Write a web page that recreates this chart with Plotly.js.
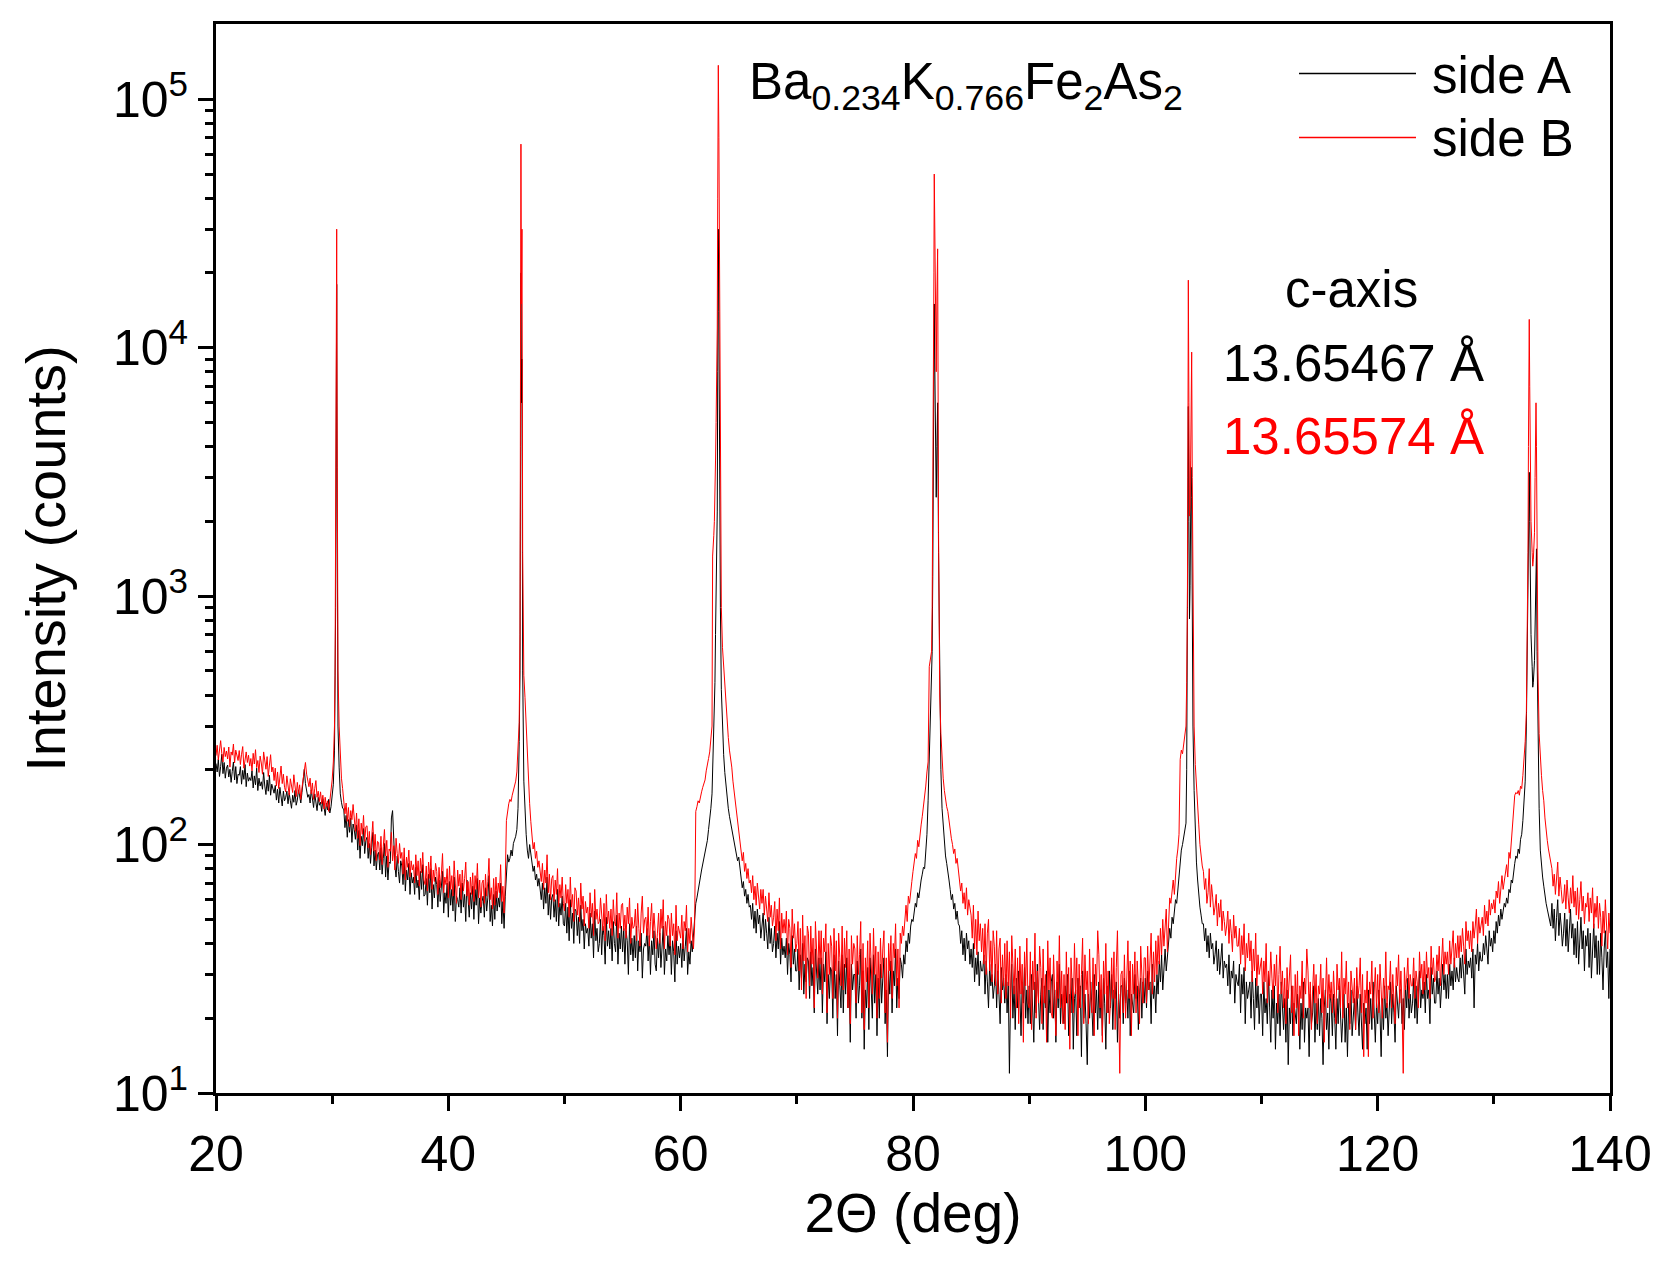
<!DOCTYPE html>
<html>
<head>
<meta charset="utf-8">
<script src="https://cdn.plot.ly/plotly-3.0.1.min.js"></script>
<style>html,body{margin:0;padding:0;background:#fff;} #chart{width:1661px;height:1271px;}</style>
</head>
<body>
<div id="chart"></div>
<script>
// 2Theta sampling positions (deg), shared by both scans
const twoTheta = [
20,20.1,20.2,20.3,20.4,20.5,20.6,20.7,20.8,20.9,
21,21.1,21.2,21.3,21.4,21.5,21.6,21.7,21.8,21.9,
22,22.1,22.2,22.3,22.4,22.5,22.6,22.7,22.8,22.9,
23,23.1,23.2,23.3,23.4,23.5,23.6,23.7,23.8,23.9,
24,24.1,24.2,24.3,24.4,24.5,24.6,24.7,24.8,24.9,
25,25.1,25.2,25.3,25.4,25.5,25.6,25.7,25.8,25.9,
26,26.1,26.2,26.3,26.4,26.5,26.6,26.7,26.8,26.9,
27,27.1,27.2,27.3,27.4,27.5,27.6,27.7,27.8,27.9,
28,28.1,28.2,28.3,28.4,28.5,28.6,28.7,28.8,28.9,
29,29.1,29.2,29.3,29.4,29.5,29.6,29.7,29.8,29.9,
30,30.1,30.2,30.25,30.3,30.34,30.37,30.39,30.42,30.46,30.5,30.6,30.7,30.8,30.9,
31,31.1,31.2,31.3,31.4,31.5,31.6,31.7,31.8,31.9,
32,32.1,32.2,32.3,32.4,32.5,32.6,32.7,32.8,32.9,
33,33.1,33.2,33.3,33.4,33.5,33.6,33.7,33.8,33.9,
34,34.1,34.2,34.3,34.4,34.5,34.6,34.7,34.8,34.9,
35,35.1,35.2,35.3,35.4,35.5,35.6,35.7,35.8,35.9,
36,36.1,36.2,36.3,36.4,36.5,36.6,36.7,36.8,36.9,
37,37.1,37.2,37.3,37.4,37.5,37.6,37.7,37.8,37.9,
38,38.1,38.2,38.3,38.4,38.5,38.6,38.7,38.8,38.9,
39,39.1,39.2,39.3,39.4,39.5,39.6,39.7,39.8,39.9,
40,40.1,40.2,40.3,40.4,40.5,40.6,40.7,40.8,40.9,
41,41.1,41.2,41.3,41.4,41.5,41.6,41.7,41.8,41.9,
42,42.1,42.2,42.3,42.4,42.5,42.6,42.7,42.8,42.9,
43,43.1,43.2,43.3,43.4,43.5,43.6,43.7,43.8,43.9,
44,44.1,44.2,44.3,44.4,44.5,44.6,44.7,44.8,44.9,
45,45.1,45.2,45.3,45.4,45.5,45.6,45.7,45.8,45.9,
46,46.1,46.17,46.22,46.25,46.29,46.34,46.4,46.5,46.6,46.7,46.8,46.9,
47,47.1,47.2,47.3,47.4,47.5,47.6,47.7,47.8,47.9,
48,48.1,48.2,48.3,48.4,48.5,48.6,48.7,48.8,48.9,
49,49.1,49.2,49.3,49.4,49.5,49.6,49.7,49.8,49.9,
50,50.1,50.2,50.3,50.4,50.5,50.6,50.7,50.8,50.9,
51,51.1,51.2,51.3,51.4,51.5,51.6,51.7,51.8,51.9,
52,52.1,52.2,52.3,52.4,52.5,52.6,52.7,52.8,52.9,
53,53.1,53.2,53.3,53.4,53.5,53.6,53.7,53.8,53.9,
54,54.1,54.2,54.3,54.4,54.5,54.6,54.7,54.8,54.9,
55,55.1,55.2,55.3,55.4,55.5,55.6,55.7,55.8,55.9,
56,56.1,56.2,56.3,56.4,56.5,56.6,56.7,56.8,56.9,
57,57.1,57.2,57.3,57.4,57.5,57.6,57.7,57.8,57.9,
58,58.1,58.2,58.3,58.4,58.5,58.6,58.7,58.8,58.9,
59,59.1,59.2,59.3,59.4,59.5,59.6,59.7,59.8,59.9,
60,60.1,60.2,60.3,60.4,60.5,60.6,60.7,60.8,60.9,
61,61.1,61.2,61.3,61.4,61.5,61.6,61.7,61.8,61.9,
62,62.1,62.2,62.3,62.4,62.5,62.6,62.7,62.75,62.8,62.85,62.9,62.95,
63,63.05,63.1,63.15,63.19,63.24,63.29,63.35,63.42,63.5,63.6,63.7,63.8,63.9,
64,64.1,64.2,64.3,64.4,64.5,64.6,64.7,64.8,64.9,
65,65.1,65.2,65.3,65.4,65.5,65.6,65.7,65.8,65.9,
66,66.1,66.2,66.3,66.4,66.5,66.6,66.7,66.8,66.9,
67,67.1,67.2,67.3,67.4,67.5,67.6,67.7,67.8,67.9,
68,68.1,68.2,68.3,68.4,68.5,68.6,68.7,68.8,68.9,
69,69.1,69.2,69.3,69.4,69.5,69.6,69.7,69.8,69.9,
70,70.1,70.2,70.3,70.4,70.5,70.6,70.7,70.8,70.9,
71,71.1,71.2,71.3,71.4,71.5,71.6,71.7,71.8,71.9,
72,72.1,72.2,72.3,72.4,72.5,72.6,72.7,72.8,72.9,
73,73.1,73.2,73.3,73.4,73.5,73.6,73.7,73.8,73.9,
74,74.1,74.2,74.3,74.4,74.5,74.6,74.7,74.8,74.9,
75,75.1,75.2,75.3,75.4,75.5,75.6,75.7,75.8,75.9,
76,76.1,76.2,76.3,76.4,76.5,76.6,76.7,76.8,76.9,
77,77.1,77.2,77.3,77.4,77.5,77.6,77.7,77.8,77.9,
78,78.1,78.2,78.3,78.4,78.5,78.6,78.7,78.8,78.9,
79,79.1,79.2,79.3,79.4,79.5,79.6,79.7,79.8,79.9,
80,80.1,80.2,80.3,80.4,80.5,80.6,80.7,80.8,80.9,
81,81.1,81.2,81.3,81.4,81.5,81.6,81.65,81.7,81.75,81.8,81.83,81.87,81.93,
82,82.06,82.12,82.2,82.3,82.4,82.5,82.6,82.7,82.8,82.9,
83,83.1,83.2,83.3,83.4,83.5,83.6,83.7,83.8,83.9,
84,84.1,84.2,84.3,84.4,84.5,84.6,84.7,84.8,84.9,
85,85.1,85.2,85.3,85.4,85.5,85.6,85.7,85.8,85.9,
86,86.1,86.2,86.3,86.4,86.5,86.6,86.7,86.8,86.9,
87,87.1,87.2,87.3,87.4,87.5,87.6,87.7,87.8,87.9,
88,88.1,88.2,88.3,88.4,88.5,88.6,88.7,88.8,88.9,
89,89.1,89.2,89.3,89.4,89.5,89.6,89.7,89.8,89.9,
90,90.1,90.2,90.3,90.4,90.5,90.6,90.7,90.8,90.9,
91,91.1,91.2,91.3,91.4,91.5,91.6,91.7,91.8,91.9,
92,92.1,92.2,92.3,92.4,92.5,92.6,92.7,92.8,92.9,
93,93.1,93.2,93.3,93.4,93.5,93.6,93.7,93.8,93.9,
94,94.1,94.2,94.3,94.4,94.5,94.6,94.7,94.8,94.9,
95,95.1,95.2,95.3,95.4,95.5,95.6,95.7,95.8,95.9,
96,96.1,96.2,96.3,96.4,96.5,96.6,96.7,96.8,96.9,
97,97.1,97.2,97.3,97.4,97.5,97.6,97.7,97.8,97.9,
98,98.1,98.2,98.3,98.4,98.5,98.6,98.7,98.8,98.9,
99,99.1,99.2,99.3,99.4,99.5,99.6,99.7,99.8,99.9,
100,100.1,100.2,100.3,100.4,100.5,100.6,100.7,100.8,100.9,
101,101.1,101.2,101.3,101.4,101.5,101.6,101.7,101.8,101.9,
102,102.1,102.2,102.3,102.4,102.5,102.6,102.7,102.8,102.9,
103,103.1,103.2,103.3,103.4,103.5,103.56,103.62,103.66,103.7,103.75,103.8,103.85,103.9,103.94,103.99,
104.04,104.1,104.2,104.3,104.4,104.5,104.6,104.7,104.8,104.9,
105,105.1,105.2,105.3,105.4,105.5,105.6,105.7,105.8,105.9,
106,106.1,106.2,106.3,106.4,106.5,106.6,106.7,106.8,106.9,
107,107.1,107.2,107.3,107.4,107.5,107.6,107.7,107.8,107.9,
108,108.1,108.2,108.3,108.4,108.5,108.6,108.7,108.8,108.9,
109,109.1,109.2,109.3,109.4,109.5,109.6,109.7,109.8,109.9,
110,110.1,110.2,110.3,110.4,110.5,110.6,110.7,110.8,110.9,
111,111.1,111.2,111.3,111.4,111.5,111.6,111.7,111.8,111.9,
112,112.1,112.2,112.3,112.4,112.5,112.6,112.7,112.8,112.9,
113,113.1,113.2,113.3,113.4,113.5,113.6,113.7,113.8,113.9,
114,114.1,114.2,114.3,114.4,114.5,114.6,114.7,114.8,114.9,
115,115.1,115.2,115.3,115.4,115.5,115.6,115.7,115.8,115.9,
116,116.1,116.2,116.3,116.4,116.5,116.6,116.7,116.8,116.9,
117,117.1,117.2,117.3,117.4,117.5,117.6,117.7,117.8,117.9,
118,118.1,118.2,118.3,118.4,118.5,118.6,118.7,118.8,118.9,
119,119.1,119.2,119.3,119.4,119.5,119.6,119.7,119.8,119.9,
120,120.1,120.2,120.3,120.4,120.5,120.6,120.7,120.8,120.9,
121,121.1,121.2,121.3,121.4,121.5,121.6,121.7,121.8,121.9,
122,122.1,122.2,122.3,122.4,122.5,122.6,122.7,122.8,122.9,
123,123.1,123.2,123.3,123.4,123.5,123.6,123.7,123.8,123.9,
124,124.1,124.2,124.3,124.4,124.5,124.6,124.7,124.8,124.9,
125,125.1,125.2,125.3,125.4,125.5,125.6,125.7,125.8,125.9,
126,126.1,126.2,126.3,126.4,126.5,126.6,126.7,126.8,126.9,
127,127.1,127.2,127.3,127.4,127.5,127.6,127.7,127.8,127.9,
128,128.1,128.2,128.3,128.4,128.5,128.6,128.7,128.8,128.9,
129,129.1,129.2,129.3,129.4,129.5,129.6,129.7,129.8,129.9,
130,130.1,130.2,130.3,130.4,130.5,130.6,130.7,130.8,130.9,
131,131.1,131.2,131.3,131.4,131.5,131.6,131.7,131.8,131.9,
132,132.1,132.2,132.3,132.4,132.5,132.6,132.7,132.8,132.88,132.94,132.98,
133.02,133.05,133.09,133.15,133.2,133.3,133.35,133.4,133.5,133.55,133.6,133.63,133.67,133.72,133.8,133.9,
134,134.1,134.2,134.3,134.4,134.5,134.6,134.7,134.8,134.9,
135,135.1,135.2,135.3,135.4,135.5,135.6,135.7,135.8,135.9,
136,136.1,136.2,136.3,136.4,136.5,136.6,136.7,136.8,136.9,
137,137.1,137.2,137.3,137.4,137.5,137.6,137.7,137.8,137.9,
138,138.1,138.2,138.3,138.4,138.5,138.6,138.7,138.8,138.9,
139,139.1,139.2,139.3,139.4,139.5,139.6,139.7,139.8,139.9,
140
];

// side A intensities (counts), black
const sideA = [
212,196,220,188,206,231,193,214,185,203,
209,187,201,178,197,215,182,206,176,192,
190,206,175,199,183,210,171,194,180,186,
181,198,169,189,174,203,165,185,172,179,
167,195,172,159,182,164,190,158,175,166,
161,173,151,167,147,170,155,143,164,150,
155,164,146,161,150,140,158,148,165,144,
151,166,157,147,162,190,201,176,165,155,
159,147,166,151,141,160,148,137,155,144,
148,136,153,140,131,147,138,152,134,142,
160,175,240,360,900,3500,9000,18000,3300,650,300,205,160,148,140,
139,117,131,107,126,112,128,102,121,115,
105,120,95,114,88,108,99,116,92,104,
107,88,101,84,97,112,82,95,79,91,
93,79,97,76,88,101,74,90,72,85,
84,128,137,96,82,74,90,78,70,86,
82,69,87,65,79,72,84,63,77,70,
74,63,81,67,72,60,78,66,83,62,
63,73,57,76,64,80,55,69,61,74,
69,56,72,59,66,78,53,64,58,70,
51,71,57,66,54,74,49,62,60,56,
67,53,70,56,63,49,72,58,51,64,
55,68,50,66,57,73,48,61,53,59,
62,51,67,54,61,75,49,57,47,63,
50,65,54,61,56,70,48,59,46,62,
78,91,85,88,95,90,101,104,108,115,
140,260,500,4000,20000,6000,9000,500,180,130,110,95,88,
100,92,86,78,82,72,76,68,73,64,
60,70,55,67,58,74,52,63,50,61,
63,51,60,49,66,47,58,52,62,48,
47,58,44,56,41,60,46,53,40,55,
54,43,51,40,57,45,50,38,48,44,
46,39,53,42,48,35,54,41,46,37,
40,50,36,47,43,33,51,39,45,38,
46,34,49,40,37,52,33,44,38,47,
37,46,33,45,41,30,48,36,42,34,
43,35,47,31,41,37,44,29,38,40,
39,46,34,43,30,41,36,45,33,31,
42,35,44,32,40,47,30,38,34,43,
36,43,30,41,37,28,45,33,39,35,
40,32,43,34,39,46,30,37,33,41,
37,44,51,58,61,66,70,74,79,84,
88,93,97,104,115,125,140,160,190,240,300,380,450,
700,1000,1600,2200,8000,30000,14000,3000,900,420,280,230,195,172,
150,140,130,122,115,108,100,95,90,86,
89,80,74,67,71,62,66,58,63,56,
57,50,58,46,54,44,55,48,52,42,
47,53,41,50,44,38,51,40,46,37,
40,47,35,44,38,49,33,42,36,39,
35,42,30,40,36,28,43,33,38,31,
31,38,26,36,29,40,25,33,28,35,
34,24,37,27,32,21,38,28,25,35,
26,35,21,33,28,37,19,30,24,32,
31,20,36,24,30,17,34,27,22,36,
21,33,25,35,22,29,16,33,26,30,
30,20,34,23,27,38,20,31,15,26,
22,32,18,35,26,20,36,23,30,17,
29,20,33,23,29,35,19,26,14,31,
25,34,21,31,27,38,22,29,24,35,
33,29,36,33,41,37,44,40,47,50,
49,54,58,56,64,61,68,72,76,81,
80,95,110,150,210,300,450,600,1200,2300,7400,15000,9000,3000,
2500,4000,6000,1500,400,200,140,120,100,90,84,
79,72,66,60,63,55,58,50,54,48,
47,40,45,36,42,34,44,38,41,33,
38,32,40,28,35,30,37,27,34,31,
31,36,25,34,28,22,33,27,30,24,
27,33,22,31,25,19,32,26,29,23,
30,21,28,12,25,33,20,27,18,29,
22,31,25,17,28,23,32,20,26,19,
27,19,30,23,16,28,21,33,24,18,
25,29,18,27,22,31,16,26,21,28,
30,20,26,16,28,22,33,19,25,21,
19,27,23,30,17,25,21,29,15,24,
26,17,29,22,27,14,31,20,25,19,
13,25,20,28,23,17,30,21,26,18,
28,20,26,17,29,23,15,27,21,31,
22,30,18,26,24,28,16,25,20,27,
27,19,29,23,26,20,31,17,25,22,
21,30,24,27,18,25,29,20,28,23,
29,22,31,26,28,19,33,24,27,21,
30,25,34,28,36,26,33,38,31,35,
39,46,42,51,48,56,60,58,67,74,
88,95,100,108,115,122,200,600,2000,5800,2000,810,1100,1800,3300,2500,
800,300,165,110,85,72,62,56,52,48,
48,41,46,37,43,35,44,38,40,33,
36,41,31,38,30,35,40,29,34,32,
33,27,36,25,31,29,34,23,30,28,
27,33,21,30,25,32,19,28,24,26,
28,20,31,24,18,29,22,27,19,25,
25,17,28,21,24,19,30,22,16,26,
20,27,15,23,19,25,17,28,21,18,
24,16,26,13,22,19,27,17,23,20,
19,25,21,15,23,18,28,16,22,20,
22,14,25,19,21,27,16,23,18,24,
17,24,20,13,22,26,18,21,15,25,
23,17,25,20,15,24,19,27,21,16,
20,25,16,22,14,23,19,26,17,21,
24,18,27,21,17,25,20,15,23,19,
22,15,26,19,24,18,28,20,16,23,
19,26,21,14,24,18,27,20,23,17,
22,28,19,25,21,16,27,23,20,26,
26,19,24,18,27,22,29,20,25,21,
23,29,20,27,19,25,31,22,26,24,
28,21,30,24,26,19,32,25,29,23,
23,31,25,29,22,27,33,26,30,24,
30,24,33,27,31,26,35,28,32,29,
28,35,29,36,31,25,38,30,34,32,
35,29,38,22,36,33,40,31,37,34,
34,40,36,43,38,33,45,39,42,37,
45,40,49,44,52,47,55,50,54,58,
56,61,58,66,64,72,70,78,84,90,
88,96,92,105,110,125,150,180,300,600,1100,1500,
2500,3150,2000,900,700,520,430,450,550,800,1200,1400,1550,600,250,140,
95,82,74,68,62,58,55,52,49,47,
58,46,55,41,51,60,43,53,47,39,
44,53,39,50,37,47,55,42,48,36,
46,35,49,33,42,51,38,45,31,43,
39,46,32,44,29,41,48,35,43,30,
41,30,44,35,26,38,45,32,37,24,
38
];

// side B intensities (counts), red
const sideB = [
228,251,219,240,262,233,215,246,226,238,
221,247,205,236,229,254,213,240,224,218,
239,210,231,248,203,226,236,214,229,207,
222,198,233,211,241,204,218,195,227,213,
192,236,214,201,226,188,209,230,196,205,
181,203,172,196,168,189,207,176,192,170,
163,189,171,158,184,175,162,191,167,156,
178,160,174,152,169,186,205,214,192,181,
171,185,160,177,152,168,181,155,164,149,
163,146,158,139,155,142,150,136,148,160,
182,215,300,480,1500,6000,16000,30000,6000,1200,500,300,215,185,168,
152,133,147,124,141,118,137,126,145,121,
113,134,106,127,99,122,110,131,103,118,
119,97,113,91,108,124,94,110,86,103,
102,87,108,83,98,115,90,104,81,96,
94,112,86,99,79,106,92,84,101,88,
93,76,97,72,89,81,95,74,86,79,
83,70,91,75,86,68,88,77,93,72,
69,82,65,85,73,90,66,79,71,84,
78,63,81,67,76,92,64,74,69,80,
61,82,66,75,62,86,70,58,79,68,
76,60,79,65,73,85,62,71,57,74,
63,77,59,75,66,84,61,72,56,70,
72,58,76,62,71,88,60,67,55,73,
57,74,61,70,64,83,59,68,53,72,
125,138,146,152,149,158,166,171,180,196,
235,310,700,8000,66000,15000,30000,1500,480,390,300,210,170,
146,124,112,96,102,88,94,81,86,77,
71,84,66,79,70,91,64,76,60,73,
75,59,72,63,80,56,69,61,74,58,
54,69,58,66,51,74,56,63,49,67,
65,52,61,49,70,55,62,47,59,53,
56,46,64,51,58,43,66,50,55,48,
49,61,52,45,58,41,63,48,54,46,
55,43,60,49,47,64,42,53,46,57,
58,45,52,42,56,48,61,40,51,46,
47,55,41,58,46,39,53,62,44,50,
51,43,56,39,49,58,42,53,45,38,
44,53,40,55,46,60,38,49,43,52,
50,39,53,43,48,36,57,41,47,44,
42,52,38,49,45,57,37,46,40,51,
44,38,47,136,142,150,147,158,163,170,
176,182,198,207,222,236,262,300,1450,1550,1750,2000,2400,
3500,5000,8000,12000,40000,137000,70000,15000,3500,900,620,520,420,370,
300,270,240,225,205,180,165,150,138,126,
118,104,96,86,93,78,84,73,80,70,
72,64,75,60,68,57,70,62,55,66,
58,66,52,62,55,49,64,51,57,47,
51,59,41,55,45,61,38,53,44,50,
44,54,36,50,46,32,55,42,48,37,
40,49,31,46,26,52,34,43,24,47,
44,27,47,33,42,22,49,38,29,45,
33,45,25,42,37,48,21,40,30,43,
39,24,46,31,41,20,44,35,27,47,
26,42,32,45,22,38,19,43,33,40,
38,23,43,30,36,49,21,40,18,35,
28,41,22,44,33,25,46,30,39,20,
37,24,42,29,38,45,21,35,16,40,
31,43,24,40,35,48,27,38,22,44,
40,47,43,52,57,49,62,58,66,71,
78,85,92,88,104,98,112,120,130,142,
158,172,196,215,520,560,600,900,2000,5000,20000,50000,30000,9000,
8000,16000,25000,1800,400,280,215,185,165,150,142,
136,124,116,106,100,92,96,84,88,78,
74,65,70,58,64,55,67,52,60,56,
52,42,57,38,50,36,54,41,48,37,
46,33,48,30,44,50,31,41,28,45,
39,27,45,25,38,42,23,36,27,40,
24,41,27,37,20,43,31,25,38,22,
35,19,39,25,33,16,37,27,42,23,
22,37,18,34,26,44,20,31,23,39,
32,19,38,23,30,16,41,26,35,21,
20,36,25,17,34,24,43,22,31,19,
30,18,37,23,32,15,35,27,21,40,
25,35,17,33,22,30,42,19,36,26,
31,19,38,24,21,35,17,33,27,45,
36,22,30,16,34,25,40,21,31,19,
23,35,24,37,18,32,45,23,12,30,
31,21,36,20,30,41,24,34,17,33,
25,37,21,34,27,19,39,28,23,35,
35,23,39,26,34,44,25,37,28,41,
30,43,33,46,36,50,39,47,55,37,
53,61,58,66,72,63,80,88,96,110,
220,240,232,252,265,300,450,900,3000,18700,6000,2100,2300,3500,6000,9600,
3000,800,300,210,180,150,120,100,90,82,
78,66,73,58,64,80,56,69,61,52,
56,63,47,58,51,60,45,54,49,43,
47,54,40,50,44,37,52,42,47,39,
39,46,33,43,36,48,31,40,35,44,
34,41,28,38,31,44,27,36,30,33,
35,25,34,28,40,23,31,27,37,29,
24,33,27,36,21,30,39,25,31,22,
29,19,32,24,28,36,21,27,17,30,
22,31,17,27,24,34,20,29,25,38,
31,22,28,18,26,33,23,30,19,27,
25,33,21,29,16,27,35,22,30,24,
28,21,31,24,19,33,26,29,22,37,
20,29,25,34,22,28,18,31,26,23,
29,18,32,24,27,35,21,30,14,26,
23,31,14,28,25,34,20,27,32,22,
30,21,33,26,20,29,24,37,22,27,
26,34,22,30,25,19,32,27,36,23,
31,22,12,32,26,29,35,24,30,27,
27,35,24,31,28,22,37,29,33,25,
34,26,37,29,32,24,39,30,35,28,
29,36,31,39,27,34,42,30,37,33,
37,30,41,33,38,45,32,40,35,43,
35,43,37,46,39,33,49,41,45,38,
45,37,49,42,47,55,40,51,44,48,
51,43,57,48,54,47,60,52,58,55,
60,53,65,61,71,58,68,75,66,72,
77,83,74,93,88,102,120,135,158,162,
160,165,158,172,168,190,215,260,340,700,1500,4000,
9000,13000,7000,3000,2000,1500,1320,1400,1800,3000,5000,6000,4000,1400,500,280,
220,190,165,150,128,112,104,96,90,84,
80,68,76,63,71,85,62,74,66,58,
59,69,55,72,61,53,67,58,75,56,
65,52,67,50,60,71,54,62,48,58,
56,64,49,61,53,67,46,58,51,62,
46,58,51,39,54,44,60,48,38,53,
44
];

const xTickVals = [20, 40, 60, 80, 100, 120, 140];
const xMinorVals = [30, 50, 70, 90, 110, 130];
const yTickVals = [10, 100, 1000, 10000, 100000];
const yTickText = ['10<sup>1</sup>', '10<sup>2</sup>', '10<sup>3</sup>', '10<sup>4</sup>', '10<sup>5</sup>'];
const yMinorVals = [20,30,40,50,60,70,80,90, 200,300,400,500,600,700,800,900,
  2000,3000,4000,5000,6000,7000,8000,9000, 20000,30000,40000,50000,60000,70000,80000,90000];
const seriesNames = ['side A', 'side B'];
const seriesColors = ['#000000', '#ff0000'];
const compound = 'Ba<sub>0.234</sub>K<sub>0.766</sub>Fe<sub>2</sub>As<sub>2</sub>';
const cAxisLabel = 'c-axis';
const cAxisValues = ['13.65467 Å', '13.65574 Å'];

const FONT = 'Liberation Sans, Arial, Helvetica, sans-serif';
const W = 1661, H = 1271;
const M = {l: 216, r: 51, t: 24, b: 178};
const PW = W - M.l - M.r, PH = H - M.t - M.b;
// page pixel -> paper fraction, for placing the decorative text block
const px = x => (x - M.l) / PW;
const py = y => (H - M.b - y) / PH;

const traces = [
  {x: twoTheta, y: sideA, type: 'scatter', mode: 'lines', name: seriesNames[0],
   line: {color: seriesColors[0], width: 1}},
  {x: twoTheta, y: sideB, type: 'scatter', mode: 'lines', name: seriesNames[1],
   line: {color: seriesColors[1], width: 1}}
];

const annFont = (size, color) => ({family: FONT, size: size, color: color || '#000'});

const annotations = [
  {text: compound, xref: 'paper', yref: 'paper', x: px(747), y: py(51), xanchor: 'left', yanchor: 'top',
   showarrow: false, font: annFont(51)},
  {text: seriesNames[0], xref: 'paper', yref: 'paper', x: px(1430), y: py(45), xanchor: 'left', yanchor: 'top',
   showarrow: false, font: annFont(51)},
  {text: seriesNames[1], xref: 'paper', yref: 'paper', x: px(1430), y: py(108), xanchor: 'left', yanchor: 'top',
   showarrow: false, font: annFont(51)},
  {text: cAxisLabel, xref: 'paper', yref: 'paper', x: px(1351), y: py(259), xanchor: 'center', yanchor: 'top',
   showarrow: false, font: annFont(51)},
  {text: cAxisValues[0], xref: 'paper', yref: 'paper', x: px(1221), y: py(333), xanchor: 'left', yanchor: 'top',
   showarrow: false, font: annFont(51, seriesColors[0])},
  {text: cAxisValues[1], xref: 'paper', yref: 'paper', x: px(1221), y: py(406), xanchor: 'left', yanchor: 'top',
   showarrow: false, font: annFont(51, seriesColors[1])}
];

if (twoTheta.length !== sideA.length || twoTheta.length !== sideB.length) {
  annotations.push({text: 'LEN ' + twoTheta.length + '/' + sideA.length + '/' + sideB.length,
    xref: 'paper', yref: 'paper', x: 0.5, y: 0.5, showarrow: false, font: annFont(40, 'blue')});
}

const layout = {
  width: W, height: H,
  margin: M,
  paper_bgcolor: '#fff', plot_bgcolor: '#fff',
  showlegend: false,
  font: {family: FONT, color: '#000'},
  xaxis: {
    range: [20, 140], tickmode: 'array', tickvals: xTickVals,
    ticks: 'outside', ticklen: 15, tickwidth: 2.5, tickcolor: '#000',
    showline: true, linewidth: 3, linecolor: '#000', mirror: true,
    showgrid: false, zeroline: false,
    tickfont: {family: FONT, size: 50, color: '#000'},
    title: {text: '2Θ (deg)', font: {family: FONT, size: 55, color: '#000'}, standoff: 13},
    minor: {tickmode: 'array', tickvals: xMinorVals, ticks: 'outside', ticklen: 8, tickwidth: 2.5, tickcolor: '#000', showgrid: false}
  },
  yaxis: {
    type: 'log', range: [1, 5.303],
    tickmode: 'array', tickvals: yTickVals, ticktext: yTickText,
    ticks: 'outside', ticklen: 15, tickwidth: 2.5, tickcolor: '#000',
    showline: true, linewidth: 3, linecolor: '#000', mirror: true,
    showgrid: false, zeroline: false,
    tickfont: {family: FONT, size: 50, color: '#000'},
    title: {text: 'Intensity (counts)', font: {family: FONT, size: 56, color: '#000'}, standoff: 30},
    minor: {tickmode: 'array', tickvals: yMinorVals, ticks: 'outside', ticklen: 8, tickwidth: 2.5, tickcolor: '#000', showgrid: false}
  },
  shapes: [
    {type: 'line', xref: 'paper', yref: 'paper', x0: px(1299), x1: px(1416), y0: py(73.5), y1: py(73.5),
     line: {color: seriesColors[0], width: 1.5}},
    {type: 'line', xref: 'paper', yref: 'paper', x0: px(1299), x1: px(1416), y0: py(137.5), y1: py(137.5),
     line: {color: seriesColors[1], width: 1.5}}
  ],
  annotations: annotations
};

Plotly.newPlot('chart', traces, layout, {displayModeBar: false});
</script>
</body>
</html>
